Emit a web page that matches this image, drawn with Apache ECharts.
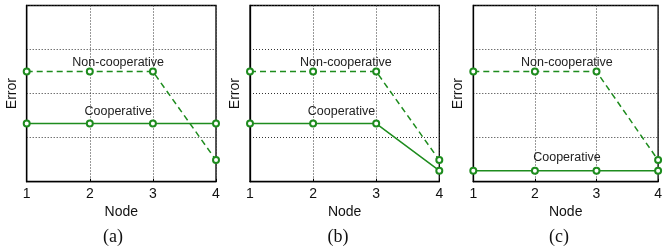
<!DOCTYPE html>
<html><head><meta charset="utf-8">
<script src="https://cdn.jsdelivr.net/npm/echarts@6/dist/echarts.min.js"></script>
<style>html,body{margin:0;padding:0;background:#fff}#c{width:665px;height:249px}</style>
</head><body><div id="c"></div>
<script>
const nodes = [1, 2, 3, 4];
const nonCoopA = [2.5, 2.5, 2.5, 0.49];
const coopA = [1.32, 1.32, 1.32, 1.32];
const nonCoopB = [2.5, 2.5, 2.5, 0.49];
const coopB = [1.32, 1.32, 1.32, 0.25];
const nonCoopC = [2.5, 2.5, 2.5, 0.49];
const coopC = [0.25, 0.25, 0.25, 0.25];
const captions = ['(a)', '(b)', '(c)'];
// label anchor [x, y] in data units per panel
const nonCoopLabelPos = [[2.45, 2.7], [2.52, 2.7], [2.52, 2.7]];
const coopLabelPos = [[2.45, 1.6], [2.45, 1.6], [2.52, 0.55]];

const GREEN = '#1e8c1e';
const lefts = [26.7, 250, 473.3];
const captionX = [113, 338, 559];
const W = 189.3, TOP = 5.5, H = 176.2;
const panels = [[nonCoopA, coopA], [nonCoopB, coopB], [nonCoopC, coopC]];

const grid = [], xAxis = [], yAxis = [], series = [], graphic = [];
panels.forEach((p, i) => {
  grid.push({left: lefts[i], top: TOP, width: W, height: H, show: true, borderColor: '#000', borderWidth: 1.3, backgroundColor: '#fff'});
  xAxis.push({
    gridIndex: i, type: 'value', min: 1, max: 4, interval: 1,
    name: 'Node', nameLocation: 'middle', nameGap: 23,
    nameTextStyle: {fontFamily: 'Liberation Sans', fontSize: 14, color: '#111'},
    axisLine: {show: true, lineStyle: {color: '#000', width: 1.3}},
    axisTick: {show: true, inside: true, length: 3, lineStyle: {color: '#000'}},
    axisLabel: {fontFamily: 'Liberation Sans', fontSize: 14, color: '#111', margin: 5},
    splitLine: {show: true, lineStyle: {color: '#333', type: [1, 2], width: 1}}
  });
  yAxis.push({
    gridIndex: i, type: 'value', min: 0, max: 4, interval: 1,
    name: 'Error', nameLocation: 'middle', nameGap: 8, nameRotate: 90,
    nameTextStyle: {fontFamily: 'Liberation Sans', fontSize: 14, color: '#111'},
    axisLine: {show: true, lineStyle: {color: '#000', width: 1.3}},
    axisTick: {show: false},
    axisLabel: {show: false},
    splitLine: {show: true, lineStyle: {color: '#333', type: [1, 2], width: 1}}
  });
  const mk = (vals, dashed, label, pos) => ({
    type: 'line', xAxisIndex: i, yAxisIndex: i,
    data: nodes.map((n, k) => [n, vals[k]]),
    symbol: 'emptyCircle', symbolSize: 6,
    lineStyle: {color: GREEN, width: 1.5, type: dashed ? [6, 4] : 'solid'},
    itemStyle: {color: GREEN, borderColor: GREEN, borderWidth: 1.3},
    z: 3,
    markPoint: {
      symbol: 'circle', symbolSize: 1, silent: true,
      itemStyle: {color: 'rgba(0,0,0,0)'},
      label: {show: true, position: 'inside', formatter: label,
        fontFamily: 'Liberation Sans', fontSize: 12.5, color: '#222'},
      data: [{coord: pos}]
    }
  });
  series.push(mk(p[0], true, 'Non-cooperative', nonCoopLabelPos[i]));
  series.push(mk(p[1], false, 'Cooperative', coopLabelPos[i]));
  graphic.push({type: 'text', x: captionX[i], y: 237, style: {text: captions[i], x: 0, y: 0,
    align: 'center', verticalAlign: 'middle',
    font: '18px "Liberation Serif"', fill: '#111'}});
});

const chart = echarts.init(document.getElementById('c'), null, {renderer: 'canvas'});
chart.setOption({animation: false, grid, xAxis, yAxis, series, graphic});
</script></body></html>
